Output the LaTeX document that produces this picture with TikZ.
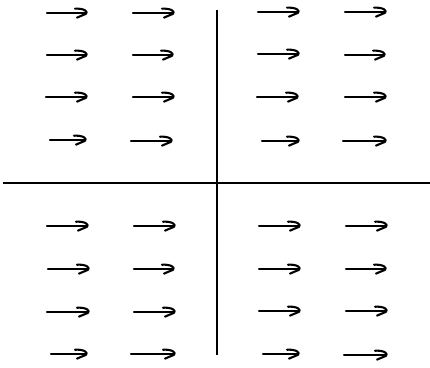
\documentclass[tikz,border=0pt]{standalone}
\begin{document}
\begin{tikzpicture}[x=1pt,y=-1pt,
  axisline/.style={line width=1.7pt,black},
  pen/.style={line width=2.1pt,line cap=round,line join=round,black},
  harr/.pic={
    \draw[pen] (0,0) -- (-#1,0);
    \draw[pen] (-11,-4.3) .. controls (-2,-4.8) and (2.5,-1.5) .. (0,0.8) -- (-9,4.6);
  }]
\useasboundingbox (0,0) rectangle (430,367);
% axes
\coordinate (hl) at (3,183);
\coordinate (hr) at (430,183);
\coordinate (vt) at (217,10);
\coordinate (vb) at (217,355);
\draw[axisline] (hl) -- (hr);
\draw[axisline] (vt) -- (vb);
% arrows (tip position / shaft length)
\foreach \x/\y/\l in {86/13/39,173/13/40,298/12/40,385/12/40,
                   86/55/39,172/55/39,298/54/40,384/55/39,
                   86/97/40,173/97/40,297/97/40,385/97/40,
                   85/140/35,171/141/40,298/141/36,385/141/42,
                   87/226/40,174/226/40,299/226/40,386/226/40,
                   88/269/40,173/269/39,299/269/40,385/269/39,
                   88/312/41,174/312/40,299/311/40,386/311/40,
                   86/354/35,174/354/43,298/354/35,386/355/42}
  \pic at (\x,\y) {harr=\l};
\end{tikzpicture}
\end{document}
